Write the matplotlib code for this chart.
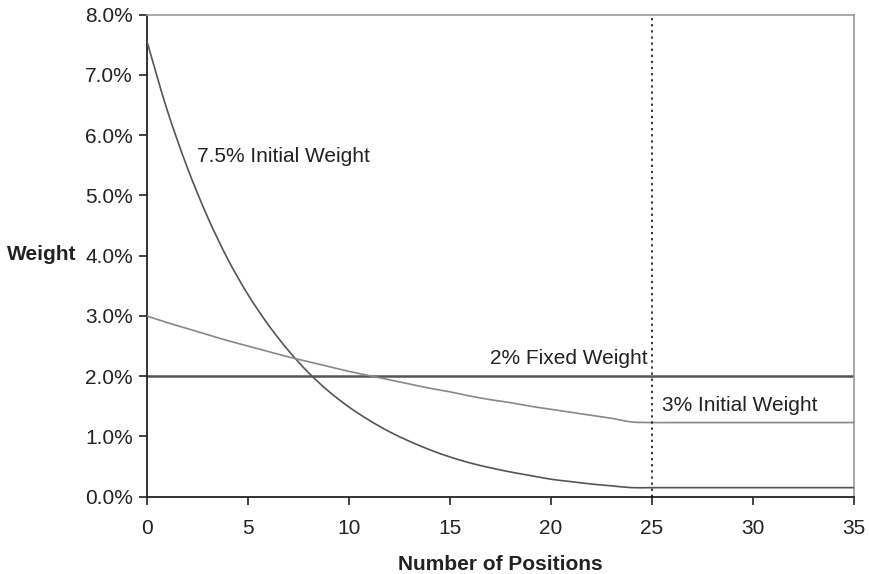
import matplotlib
matplotlib.use("Agg")
import matplotlib.pyplot as plt
from matplotlib.path import Path
from matplotlib.patches import PathPatch
from matplotlib.ticker import FuncFormatter

plt.rcParams['font.family'] = ['Liberation Sans', 'DejaVu Sans']

# Number of positions held
positions = list(range(0, 36))

# Weight per position (%) when starting at 7.5%
weight_high = [7.57, 6.43, 5.47, 4.65, 3.95, 3.36, 2.86, 2.43, 2.06, 1.75,
               1.49, 1.27, 1.08, 0.92, 0.78, 0.66, 0.56, 0.48, 0.41, 0.35,
               0.29, 0.25, 0.21, 0.18, 0.15, 0.15, 0.15, 0.15, 0.15, 0.15,
               0.15, 0.15, 0.15, 0.15, 0.15, 0.15]

# Weight per position (%) when starting at 3%
weight_low = [3.00, 2.89, 2.79, 2.69, 2.59, 2.50, 2.41, 2.32, 2.24, 2.16,
              2.08, 2.01, 1.94, 1.87, 1.80, 1.74, 1.67, 1.61, 1.56, 1.50,
              1.45, 1.40, 1.35, 1.30, 1.24, 1.23, 1.23, 1.23, 1.23, 1.23,
              1.23, 1.23, 1.23, 1.23, 1.23, 1.23]

fixed_weight = 2.0
cutoff = 25

label_high = "7.5% Initial Weight"
label_low = "3% Initial Weight"
label_fixed = "2% Fixed Weight"


def smooth_path(xs, ys, tension=1 / 6):
    """Cubic Bezier path through every point (spreadsheet-style smoothed line)."""
    n = len(xs)
    verts = [(xs[0], ys[0])]
    codes = [Path.MOVETO]
    for i in range(n - 1):
        x0, y0 = (xs[i - 1], ys[i - 1]) if i > 0 else (xs[i], ys[i])
        x1, y1 = xs[i], ys[i]
        x2, y2 = xs[i + 1], ys[i + 1]
        x3, y3 = (xs[i + 2], ys[i + 2]) if i + 2 < n else (x2, y2)
        c1 = (x1 + (x2 - x0) * tension, y1 + (y2 - y0) * tension)
        c2 = (x2 - (x3 - x1) * tension, y2 - (y3 - y1) * tension)
        verts += [c1, c2, (x2, y2)]
        codes += [Path.CURVE4, Path.CURVE4, Path.CURVE4]
    return Path(verts, codes)


fig = plt.figure(figsize=(8.7, 5.74), dpi=100)
ax = fig.add_axes([0.1686, 0.1347, 0.8130, 0.8400])

ax.axhline(fixed_weight, color='#555555', lw=1.8, zorder=2)
ax.add_patch(PathPatch(smooth_path(positions, weight_high), facecolor='none',
                       edgecolor='#555555', lw=1.2, zorder=3))
ax.add_patch(PathPatch(smooth_path(positions, weight_low), facecolor='none',
                       edgecolor='#888888', lw=1.2, zorder=3))
ax.axvline(cutoff, color='black', lw=1.1, linestyle=(0, (1.5, 2.5)), zorder=4)

ax.set_xlim(0, 35)
ax.set_ylim(0, 8)
ax.set_xticks(range(0, 36, 5))
ax.set_yticks(range(0, 9))
ax.yaxis.set_major_formatter(FuncFormatter(lambda v, p: f"{v:.1f}%"))

ax.tick_params(axis='both', labelsize=15, colors='#222222', length=6,
               width=1.2, direction='out')
ax.tick_params(axis='x', pad=10)
ax.tick_params(axis='y', pad=4)

for side in ('left', 'bottom'):
    ax.spines[side].set_color('#222222')
    ax.spines[side].set_linewidth(1.3)
for side in ('top', 'right'):
    ax.spines[side].set_color('#999999')
    ax.spines[side].set_linewidth(1.2)

ax.set_xlabel("Number of Positions", fontsize=15, fontweight='bold',
              color='#222222', labelpad=12)
fig.text(0.008, (574 - 255) / 574, "Weight", fontsize=15, fontweight='bold',
         color='#222222', ha='left', va='center')

ax.text(2.5, 5.64, label_high, fontsize=15, color='#222222',
        ha='left', va='center')
ax.text(24.8, 2.30, label_fixed, fontsize=15, color='#222222',
        ha='right', va='center')
ax.text(25.5, 1.52, label_low, fontsize=15, color='#222222',
        ha='left', va='center')

fig.savefig("out.png", dpi=100)
